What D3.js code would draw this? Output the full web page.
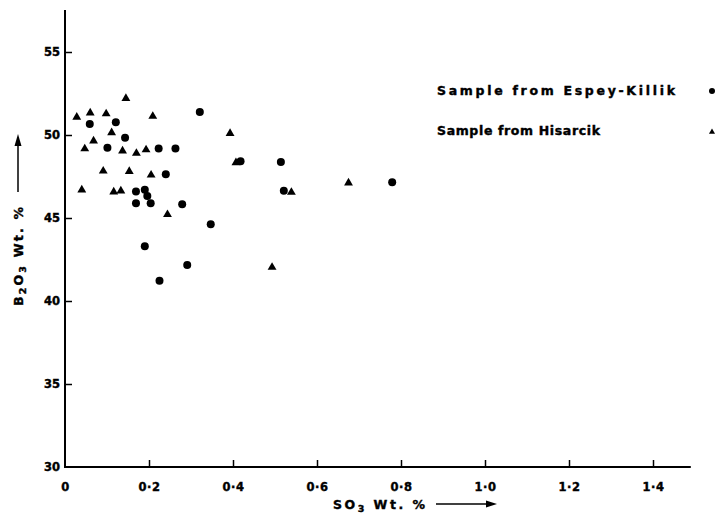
<!DOCTYPE html>
<html>
<head>
<meta charset="utf-8">
<script src="https://cdn.jsdelivr.net/npm/d3@7"></script>
<style>
  body { margin: 0; background: #fff; }
  svg { display: block; }
  text { font-family: "DejaVu Sans", "Liberation Sans", sans-serif; font-weight: bold; fill: #000; stroke: #000; stroke-width: 0.4px; }
</style>
</head>
<body>
<div id="chart"></div>
<script>
// ---- data ----
const espeyX = [0.059, 0.121, 0.143, 0.321, 0.101, 0.223, 0.263, 0.240, 0.169, 0.190, 0.196, 0.169, 0.204, 0.279, 0.418, 0.514, 0.521, 0.779, 0.347, 0.190, 0.291, 0.225];
const espeyY = [50.66, 50.77, 49.84, 51.39, 49.23, 49.19, 49.19, 47.63, 46.60, 46.70, 46.33, 45.89, 45.89, 45.83, 48.42, 48.37, 46.64, 47.15, 44.62, 43.30, 42.17, 41.22];
const hisarX = [0.028, 0.060, 0.098, 0.145, 0.209, 0.111, 0.068, 0.047, 0.137, 0.170, 0.193, 0.091, 0.153, 0.205, 0.040, 0.116, 0.133, 0.244, 0.393, 0.407, 0.539, 0.675, 0.493];
const hisarY = [51.14, 51.39, 51.34, 52.27, 51.19, 50.20, 49.70, 49.23, 49.10, 48.96, 49.17, 47.89, 47.87, 47.65, 46.75, 46.63, 46.69, 45.27, 50.16, 48.39, 46.61, 47.17, 42.09];
const xTicks = [0, 0.2, 0.4, 0.6, 0.8, 1.0, 1.2, 1.4];
const xTickLabels = ["0", "0·2", "0·4", "0·6", "0·8", "1·0", "1·2", "1·4"];
const yTicks = [30, 35, 40, 45, 50, 55];
const seriesNames = ["Sample from Espey-Killik", "Sample from Hisarcik"];

const W = 718, H = 519;
const svg = d3.select("#chart").append("svg").attr("width", W).attr("height", H);

const x = d3.scaleLinear().domain([0, 1]).range([65, 485]);
const y = d3.scaleLinear().domain([30, 55]).range([467, 52]);

// axes
const xAxis = d3.axisBottom(x).tickValues(xTicks).tickSize(-7).tickFormat((d, i) => xTickLabels[i]);
const gx = svg.append("g").attr("transform", `translate(0,${y(30)})`).call(xAxis);
gx.select(".domain").remove();
gx.append("line").attr("x1", x(0) - 1).attr("x2", x(1.49)).attr("y1", 0).attr("y2", 0)
  .attr("stroke", "#000").attr("stroke-width", 2);
gx.selectAll(".tick line").attr("stroke", "#000").attr("stroke-width", 1.5);
gx.selectAll(".tick text").attr("y", 20).attr("dy", "0.35em").attr("font-size", 11.5)
  .attr("font-family", "DejaVu Sans").attr("font-weight", "bold").attr("fill", "#000")
  .attr("letter-spacing", 0.5);
gx.selectAll(".tick").filter(d => d === 0).select("line").remove();

const yAxis = d3.axisLeft(y).tickValues(yTicks).tickSize(-7).tickFormat(d3.format("d"));
const gy = svg.append("g").attr("transform", `translate(${x(0)},0)`).call(yAxis);
gy.select(".domain").remove();
gy.append("line").attr("x1", 0).attr("x2", 0).attr("y1", 10).attr("y2", y(30) + 1)
  .attr("stroke", "#000").attr("stroke-width", 2);
gy.selectAll(".tick line").attr("stroke", "#000").attr("stroke-width", 1.5);
gy.selectAll(".tick text").attr("x", -5).attr("font-size", 11.5)
  .attr("font-family", "DejaVu Sans").attr("font-weight", "bold").attr("fill", "#000");
gy.selectAll(".tick").filter(d => d === 30).select("line").remove();

// points
const espey = espeyX.map((v, i) => ({ x: v, y: espeyY[i] }));
const hisar = hisarX.map((v, i) => ({ x: v, y: hisarY[i] }));

svg.append("g").selectAll("circle").data(espey).join("circle")
  .attr("cx", d => x(d.x)).attr("cy", d => y(d.y)).attr("r", 4).attr("fill", "#000");

const tri = d3.symbol().type(d3.symbolTriangle).size(34);
svg.append("g").selectAll("path").data(hisar).join("path")
  .attr("d", tri).attr("transform", d => `translate(${x(d.x)},${y(d.y) + 1})`).attr("fill", "#000");

// legend
const leg = svg.append("g");
leg.append("text").attr("x", 437).attr("y", 95).attr("font-size", 12.5)
  .attr("textLength", 238).attr("lengthAdjust", "spacing").text(seriesNames[0]);
leg.append("circle").attr("cx", 712).attr("cy", 91).attr("r", 3).attr("fill", "#000");
leg.append("text").attr("x", 437).attr("y", 135).attr("font-size", 12.5)
  .attr("textLength", 163).attr("lengthAdjust", "spacing").text(seriesNames[1]);
leg.append("path").attr("d", d3.symbol().type(d3.symbolTriangle).size(16))
  .attr("transform", "translate(712,132)").attr("fill", "#000");

// x axis title
const xt = svg.append("text").attr("x", 333).attr("y", 509).attr("font-size", 12.5).attr("letter-spacing", 2.5);
xt.append("tspan").text("SO");
xt.append("tspan").attr("font-size", 9.5).attr("dy", 3).text("3");
xt.append("tspan").attr("dy", -3).text("  Wt. %");
svg.append("line").attr("x1", 436).attr("x2", 488).attr("y1", 504).attr("y2", 504)
  .attr("stroke", "#000").attr("stroke-width", 1.5);
svg.append("path").attr("d", "M486,500.5 L497,504 L486,507.5 Z").attr("fill", "#000");

// y axis title
const yt = svg.append("text").attr("transform", "translate(23,306) rotate(-90)").attr("font-size", 12.5).attr("letter-spacing", 2.2);
yt.append("tspan").text("B");
yt.append("tspan").attr("font-size", 9.5).attr("dy", 3).text("2");
yt.append("tspan").attr("dy", -3).text("O");
yt.append("tspan").attr("font-size", 9.5).attr("dy", 3).text("3");
yt.append("tspan").attr("dy", -3).text("  Wt. %");
svg.append("line").attr("x1", 18).attr("x2", 18).attr("y1", 192).attr("y2", 144)
  .attr("stroke", "#000").attr("stroke-width", 1.5);
svg.append("path").attr("d", "M14.5,146 L18,134 L21.5,146 Z").attr("fill", "#000");
</script>
</body>
</html>
